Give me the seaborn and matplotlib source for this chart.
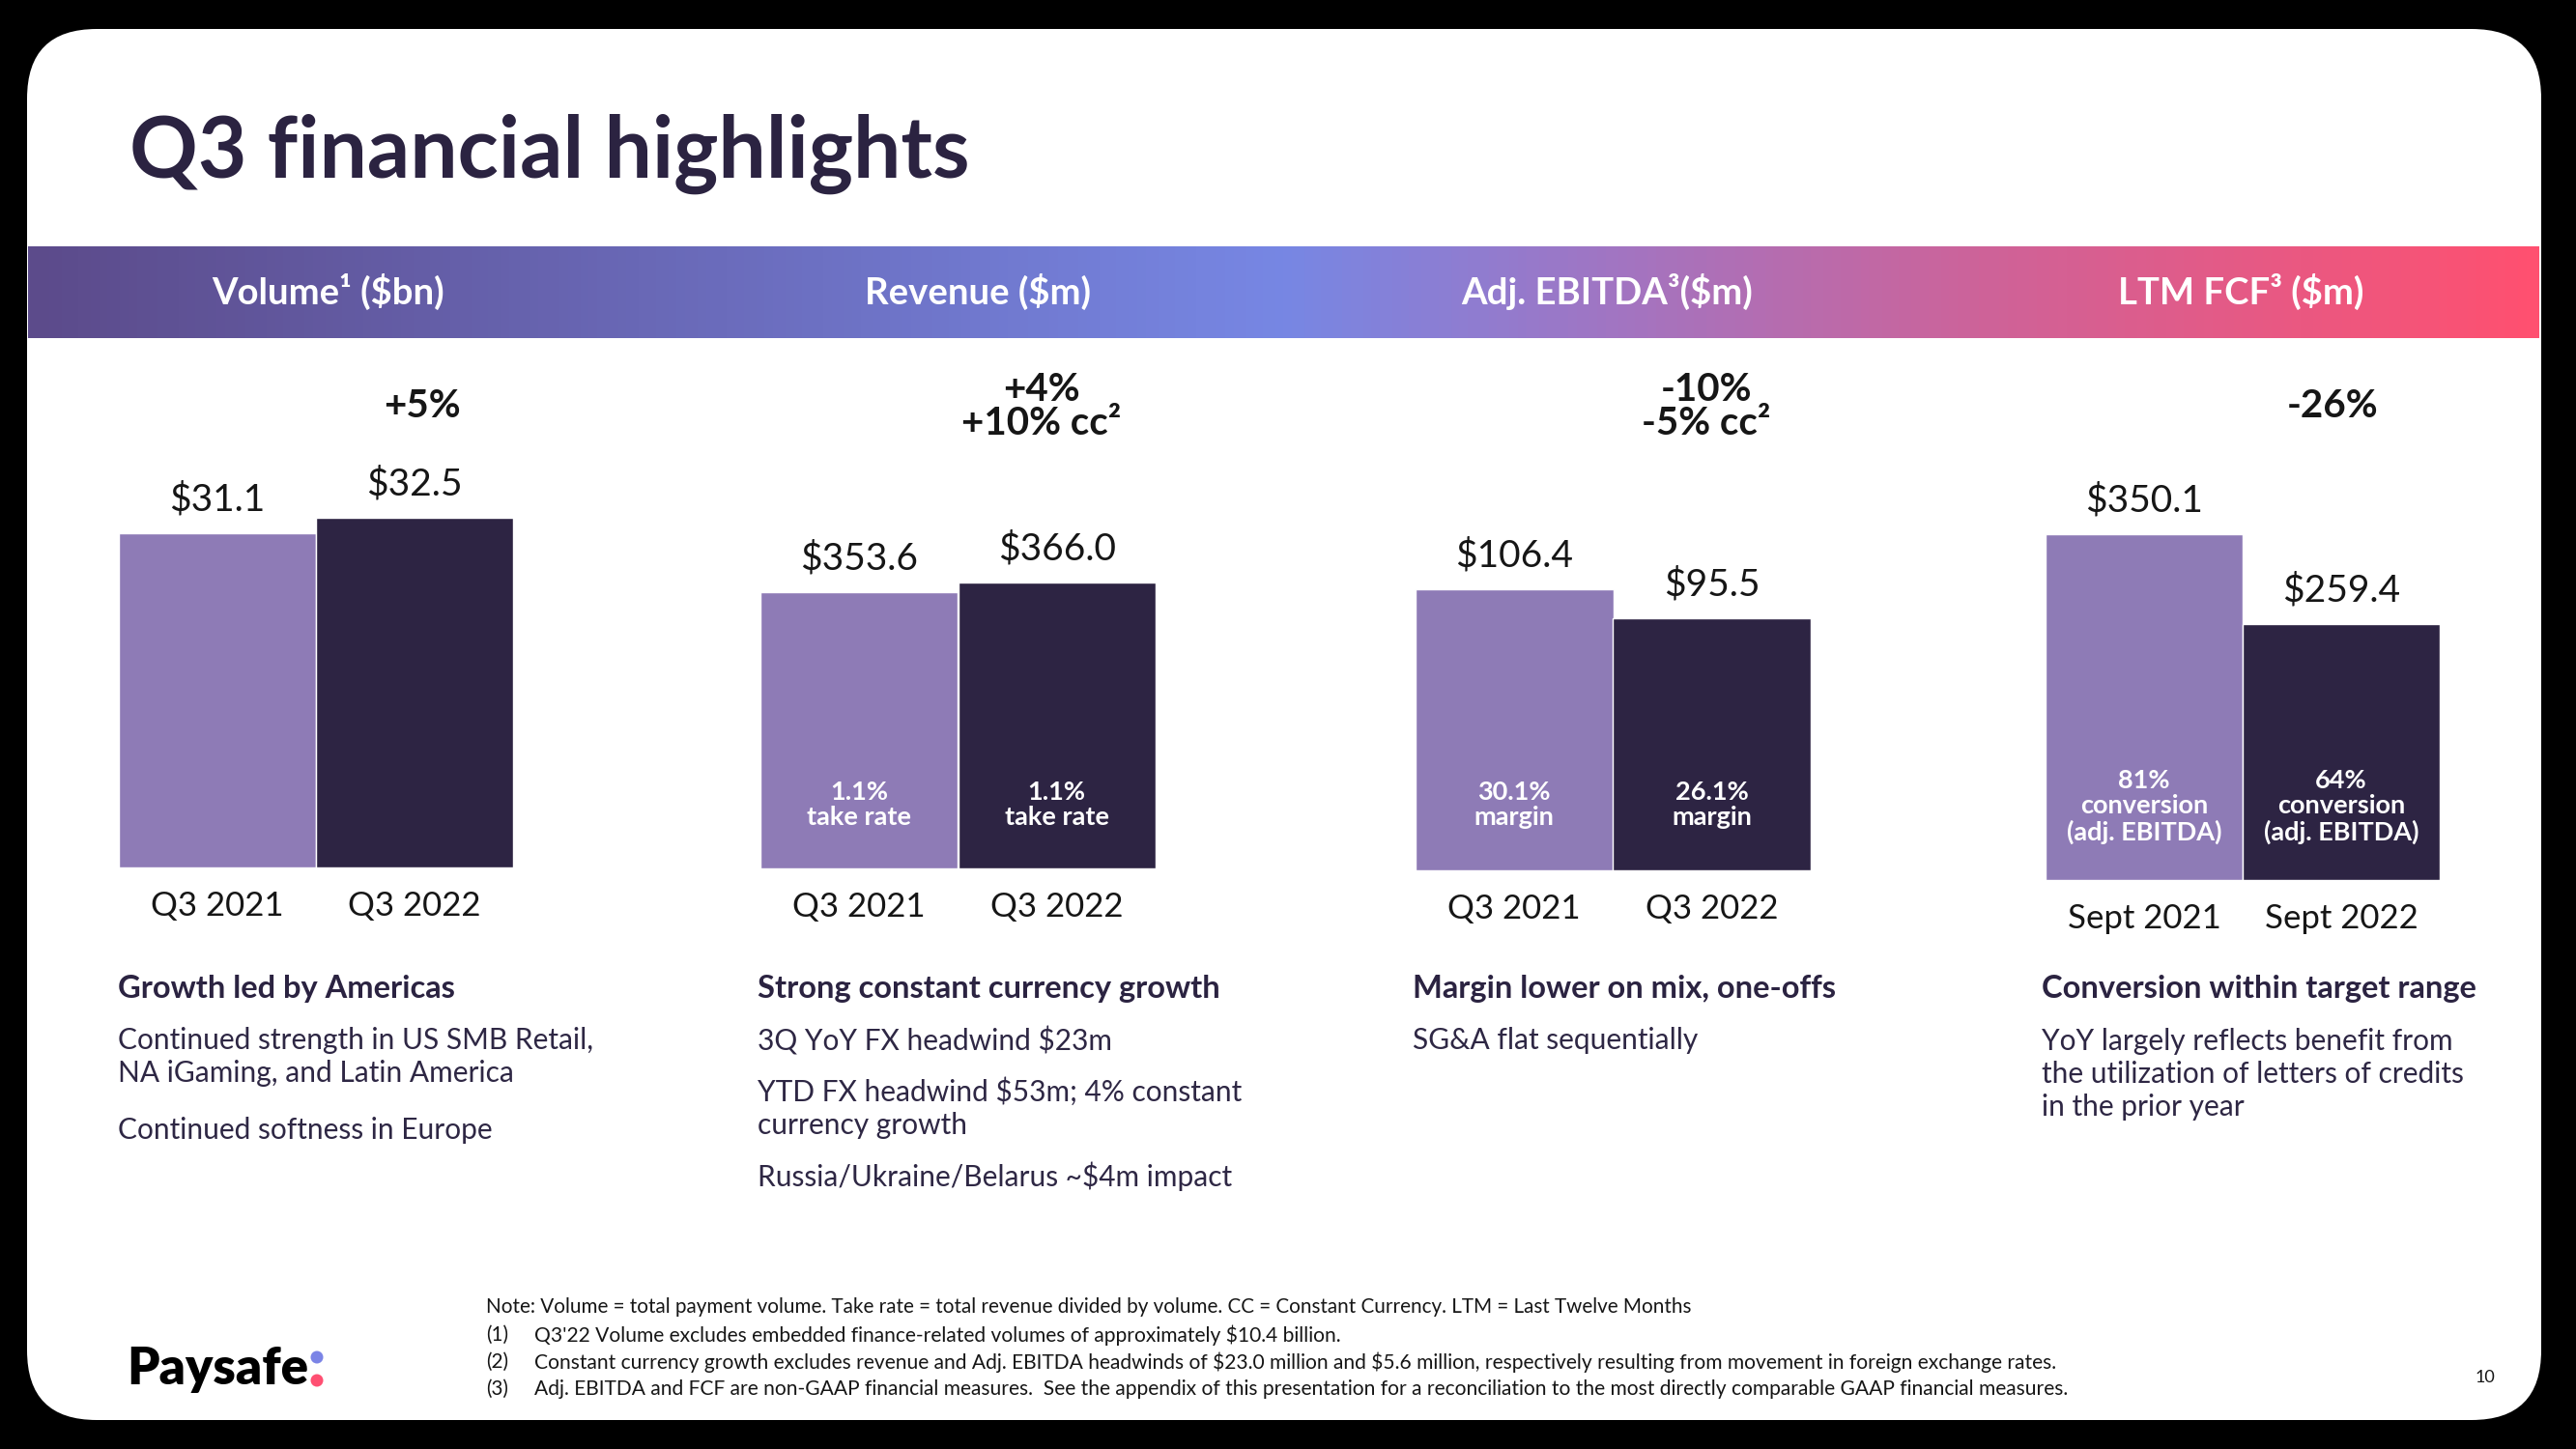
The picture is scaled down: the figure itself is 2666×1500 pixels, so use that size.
import numpy as np
import pandas as pd
import matplotlib
matplotlib.use("Agg")
import matplotlib.pyplot as plt
import seaborn as sns
from matplotlib.patches import FancyBboxPatch, Circle
from matplotlib.transforms import IdentityTransform
from matplotlib.colors import LinearSegmentedColormap

sns.set_theme(style="white")
plt.rcParams['font.family'] = ['Lato', 'DejaVu Sans']

# ---------------- data ----------------
title = "Q3 financial highlights"
panel_titles = ["Volume¹ ($bn)", "Revenue ($m)", "Adj. EBITDA³($m)", "LTM FCF³ ($m)"]

volume_periods = ["Q3 2021", "Q3 2022"]
volume_values = [31.1, 32.5]
revenue_periods = ["Q3 2021", "Q3 2022"]
revenue_values = [353.6, 366.0]
ebitda_periods = ["Q3 2021", "Q3 2022"]
ebitda_values = [106.4, 95.5]
fcf_periods = ["Sept 2021", "Sept 2022"]
fcf_values = [350.1, 259.4]

growth_labels = ["+5%", "+4%\n+10% cc²", "-10%\n-5% cc²", "-26%"]
inner_labels = [
    [None, None],
    ["1.1%\ntake rate", "1.1%\ntake rate"],
    ["30.1%\nmargin", "26.1%\nmargin"],
    ["81%\nconversion\n(adj. EBITDA)", "64%\nconversion\n(adj. EBITDA)"],
]
headings = ["Growth led by Americas", "Strong constant currency growth",
            "Margin lower on mix, one-offs", "Conversion within target range"]
bodies = [
    ["Continued strength in US SMB Retail,\nNA iGaming, and Latin America", "Continued softness in Europe"],
    ["3Q YoY FX headwind $23m", "YTD FX headwind $53m; 4% constant\ncurrency growth",
     "Russia/Ukraine/Belarus ~$4m impact"],
    ["SG&A flat sequentially"],
    ["YoY largely reflects benefit from\nthe utilization of letters of credits\nin the prior year"],
]
note_line = "Note: Volume = total payment volume. Take rate = total revenue divided by volume. CC = Constant Currency. LTM = Last Twelve Months"
footnote_marks = ["(1)", "(2)", "(3)"]
footnotes = [
    "Q3'22 Volume excludes embedded finance-related volumes of approximately $10.4 billion.",
    "Constant currency growth excludes revenue and Adj. EBITDA headwinds of $23.0 million and $5.6 million, respectively resulting from movement in foreign exchange rates.",
    "Adj. EBITDA and FCF are non-GAAP financial measures.  See the appendix of this presentation for a reconciliation to the most directly comparable GAAP financial measures.",
]
page_number = "10"

# ---------------- style ----------------
LIGHT = "#8E7BB6"
DARK = "#2D2443"
NAVY = "#2B2341"
TEXT = "#2E2744"
BLACK = "#161616"

W, H = 2666, 1500
fig = plt.figure(figsize=(W / 100, H / 100), dpi=100)
fig.patch.set_facecolor("black")


def fx(x):
    return x / W


def fy(y_top):
    return 1 - y_top / H


# white card
card = FancyBboxPatch((28, 30), 2602, 1440, boxstyle="round,pad=0,rounding_size=72",
                      transform=IdentityTransform(), facecolor="white", edgecolor="none", zorder=-5)
fig.add_artist(card)

# title
fig.text(fx(134), fy(184), title, ha="left", va="baseline", fontsize=63,
         fontweight="bold", color=NAVY, parse_math=False)

# gradient band
band = fig.add_axes([fx(29), fy(350), (2628 - 29) / W, 95 / H])
cmap = LinearSegmentedColormap.from_list(
    "band", [(0.0, "#5C4B8B"), (0.5, "#7787E4"), (0.64, "#A474C0"),
             (0.78, "#CE6399"), (1.0, "#FF5070")])
band.imshow(np.linspace(0, 1, 600)[None, :], aspect="auto", cmap=cmap, extent=[0, 1, 0, 1])
band.set_axis_off()

header_x = [340, 1012, 1663, 2319]
for hx, t in zip(header_x, panel_titles):
    fig.text(fx(hx), fy(302), t, ha="center", va="center", fontsize=27.5,
             fontweight="bold", color="white", parse_math=False)

# bar panels: left, right, baseline (px from top), px per unit
panels = [
    (volume_periods, volume_values, 123, 531, 898, 11.13),
    (revenue_periods, revenue_values, 787, 1196, 899, 0.81),
    (ebitda_periods, ebitda_values, 1465, 1874, 901, 2.733),
    (fcf_periods, fcf_values, 2117, 2525, 911, 1.022),
]
axes_top = 450
growth_pos = [(437, 420), (1078, 421), (1766, 421), (2414, 420)]
inner_y = [None, 833, 833, 835]

for i, (periods, values, l, r, b, ppu) in enumerate(panels):
    df = pd.DataFrame({"period": periods, "value": values})
    ax = fig.add_axes([fx(l), fy(b), (r - l) / W, (b - axes_top) / H])
    sns.barplot(data=df, x="period", y="value", hue="period", palette=[LIGHT, DARK],
                width=1.0, saturation=1, legend=False, ax=ax)
    ax.set_xlim(-0.5, 1.5)
    ax.set_ylim(0, (b - axes_top) / ppu)
    ax.set_facecolor("none")
    for s in ax.spines.values():
        s.set_visible(False)
    ax.set_yticks([])
    ax.set_xlabel("")
    ax.set_ylabel("")
    ax.grid(False)
    ax.tick_params(axis="x", length=0, pad=17, labelsize=25, labelcolor=BLACK)
    for j, v in enumerate(values):
        ax.annotate(f"${v:.1f}", xy=(j, v), xytext=(0, 25), textcoords="offset points",
                    ha="center", va="center", fontsize=28, color=BLACK)
        lbl = inner_labels[i][j]
        if lbl:
            ax.annotate(lbl, xy=(j, fy(inner_y[i])), xycoords=("data", "figure fraction"),
                        ha="center", va="center", fontsize=19.5, fontweight="bold",
                        color="white", linespacing=1.1)
    gx, gy = growth_pos[i]
    fig.text(fx(gx), fy(gy), growth_labels[i], ha="center", va="center", fontsize=29,
             fontweight="bold", color=BLACK, linespacing=0.95)

# commentary
col_x = [122, 784, 1462, 2113]
body_y = [[1094, 1170], [1077, 1147, 1218], [1077], [1112]]
for k in range(4):
    fig.text(fx(col_x[k]), fy(1023), headings[k], ha="left", va="center", fontsize=23.5,
             fontweight="bold", color=NAVY, parse_math=False)
    for para, y in zip(bodies[k], body_y[k]):
        fig.text(fx(col_x[k]), fy(y), para, ha="left", va="center", fontsize=21.5,
                 color=TEXT, linespacing=1.28, parse_math=False)

# footnotes
fig.text(fx(503), fy(1353), note_line, ha="left", va="center", fontsize=14.9, color=BLACK,
         parse_math=False)
for mark, note, y in zip(footnote_marks, footnotes, [1382, 1410, 1438]):
    fig.text(fx(503), fy(y), mark, ha="left", va="center", fontsize=14.9, color=BLACK,
             parse_math=False)
    fig.text(fx(553), fy(y), note, ha="left", va="center", fontsize=15.1, color=BLACK,
             parse_math=False)

fig.text(fx(2572), fy(1426), page_number, ha="center", va="center", fontsize=13, color=BLACK)

# logo
fig.text(fx(131), fy(1417), "Paysafe", ha="left", va="center", fontsize=38,
         fontweight="heavy", color="black")
fig.add_artist(Circle((328, H - 1405), 6.5, transform=IdentityTransform(),
                      facecolor="#7B84E6", edgecolor="none"))
fig.add_artist(Circle((328, H - 1429), 6.5, transform=IdentityTransform(),
                      facecolor="#FF4F72", edgecolor="none"))

fig.savefig("out.png", dpi=100, facecolor=fig.get_facecolor())
